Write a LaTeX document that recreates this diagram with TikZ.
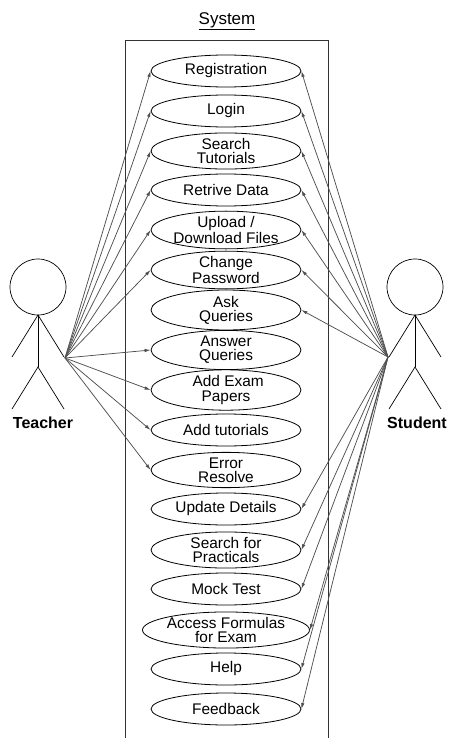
\documentclass[tikz,border=0pt]{standalone}
\usepackage{fontspec}
\setmainfont{Liberation Sans}
\usepackage{xcolor}
\definecolor{linegray}{HTML}{505050}
\usetikzlibrary{arrows.meta, shapes.geometric, positioning}

\begin{document}
\begin{tikzpicture}[x=1pt, y=-1pt,
  usecase/.style={draw=black, line width=0.8pt, ellipse, minimum width=150pt, minimum height=32pt,
    inner sep=0pt, align=center, font=\fontsize{15.4}{14.2}\selectfont},
  assoc/.style={draw=linegray, line width=0.75pt, -{Latex[length=6pt, width=3.5pt]}},
  actorlabel/.style={font=\fontsize{16}{18}\selectfont\bfseries},
  actorline/.style={draw=black, line width=0.7pt}]
  \useasboundingbox (0,0) rectangle (449,738);

  % system boundary
  \draw[line width=0.8pt, black!80] (125,738) -- (125,40) -- (328,40) -- (328,738);
  \node[font=\fontsize{17}{19}\selectfont] (sys) at (227,21) {\underline{System}};

  % use cases
  \foreach \n/\y/\t in {reg/71/Registration, login/111/Login,
      searchtut/151/{Search\\Tutorials}, retrive/190/Retrive Data,
      upload/230/{Upload /\\Download Files}, chpass/270/{Change\\Password},
      ask/310/{Ask\\Queries}, answer/350/{Answer\\Queries},
      exam/390/{\ Add Exam\\Papers}, addtut/430/Add tutorials,
      error/470/{Error\\Resolve}, update/509/Update Details,
      practicals/550/{Search for\\Practicals}, mock/589/Mock Test,
      formulas/630/{Access Formulas\\for Exam}, help/669/Help,
      feedback/709/Feedback}
    \node[usecase] (\n) at (226,\y) {\t};

  % teacher
  \draw[actorline] (38,287) circle (28pt);
  \draw[actorline] (38,315) -- (38,367);
  \draw[actorline] (12,357) -- (38,315) -- (64,357);
  \draw[actorline] (12,409) -- (38,367) -- (64,409);
  \coordinate (teacher) at (65,358);
  \node[actorlabel] (teacherlbl) at (43,423) {Teacher};

  % student
  \draw[actorline] (415,287) circle (28pt);
  \draw[actorline] (415,315) -- (415,367);
  \draw[actorline] (389,357) -- (415,315) -- (441,357);
  \draw[actorline] (389,409) -- (415,367) -- (441,409);
  \coordinate (student) at (388,357);
  \node[actorlabel] (studentlbl) at (417,423) {Student};

  % associations
  \foreach \n in {reg, login, searchtut, retrive, upload, chpass,
      answer, exam, addtut, error}
    \draw[assoc] (teacher) -- (\n.west);
  \foreach \n in {reg, login, searchtut, retrive, upload, chpass, ask,
      update, practicals, mock, formulas, help, feedback}
    \draw[assoc] (student) -- (\n.east);
\end{tikzpicture}
\end{document}
